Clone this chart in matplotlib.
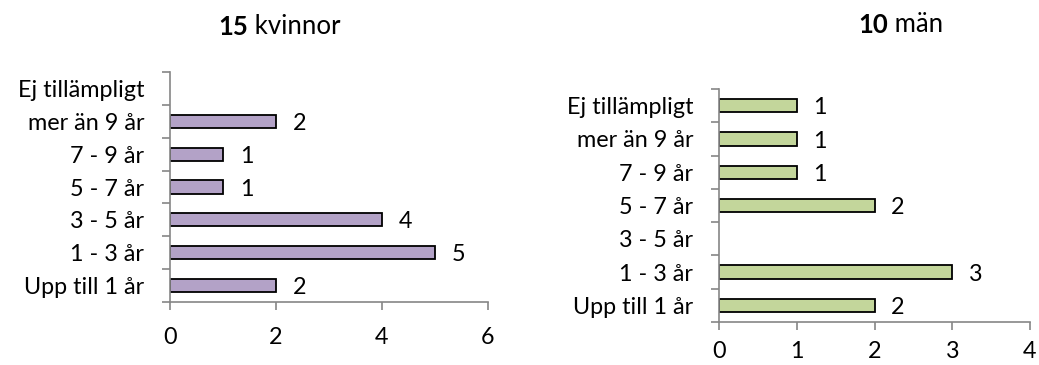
import matplotlib
matplotlib.use("Agg")
import matplotlib.pyplot as plt
from matplotlib.ticker import FixedLocator, NullFormatter, FixedFormatter

plt.rcParams['font.family'] = ['Lato', 'DejaVu Sans']

categories = ["Upp till 1 år", "1 - 3 år", "3 - 5 år", "5 - 7 år",
              "7 - 9 år", "mer än 9 år", "Ej tillämpligt"]
women = [2, 5, 4, 1, 1, 2, None]
men = [2, 3, None, 2, 1, 1, 1]
women_total = "15"
men_total = "10"
women_ticks = [0, 2, 4, 6]
men_ticks = [0, 1, 2, 3, 4]

W, H = 1039, 365
fig = plt.figure(figsize=(W / 100, H / 100), dpi=100)
axis_grey = "#868686"
fs = 16.8
title_fs = 18.5


def panel(rect_px, values, color, xticks, total, label, title_xy, xpad):
    l, b, w, h = rect_px
    ax = fig.add_axes([l / W, b / H, w / W, h / H])
    n = len(categories)
    for i, v in enumerate(values):
        if v is None:
            continue
        ax.barh(i, v, height=0.4, color=color, edgecolor="black", linewidth=1.3)
        ax.annotate(str(v), xy=(v, i), xytext=(12, -1.5), textcoords="offset points",
                    ha="left", va="center", fontsize=fs)
    ax.set_xlim(xticks[0], xticks[-1])
    ax.set_ylim(-0.5, n - 0.5)
    ax.set_xticks(xticks)
    ax.set_xticklabels([str(t) for t in xticks], fontsize=fs)
    ax.yaxis.set_major_locator(FixedLocator([i - 0.5 for i in range(n + 1)]))
    ax.yaxis.set_major_formatter(NullFormatter())
    ax.yaxis.set_minor_locator(FixedLocator(list(range(n))))
    ax.yaxis.set_minor_formatter(FixedFormatter(categories))
    ax.tick_params(axis="y", which="minor", length=0, pad=18.5, labelsize=fs)
    ax.tick_params(axis="y", which="major", length=6, width=1.2, color=axis_grey)
    ax.tick_params(axis="x", which="major", length=6, width=1.2, color=axis_grey,
                   pad=xpad)
    for s in ("top", "right"):
        ax.spines[s].set_visible(False)
    for s in ("left", "bottom"):
        ax.spines[s].set_color(axis_grey)
        ax.spines[s].set_linewidth(1.2)
    tx, ty = title_xy
    t1 = fig.text(tx / W, ty / H, total, fontsize=title_fs, fontweight="bold",
                  ha="left", va="baseline")
    ax.annotate(" " + label, xy=(1, 0), xycoords=t1, ha="left", va="bottom",
                fontsize=title_fs)
    return ax


panel((170, 63, 318, 230), women, "#B3A2C7", women_ticks, women_total, "kvinnor",
      (218, 330), 12)
panel((719, 43, 311, 233), men, "#C3D69B", men_ticks, men_total, "män",
      (858, 332), 8)

fig.savefig("out.png", dpi=100, facecolor="white")
